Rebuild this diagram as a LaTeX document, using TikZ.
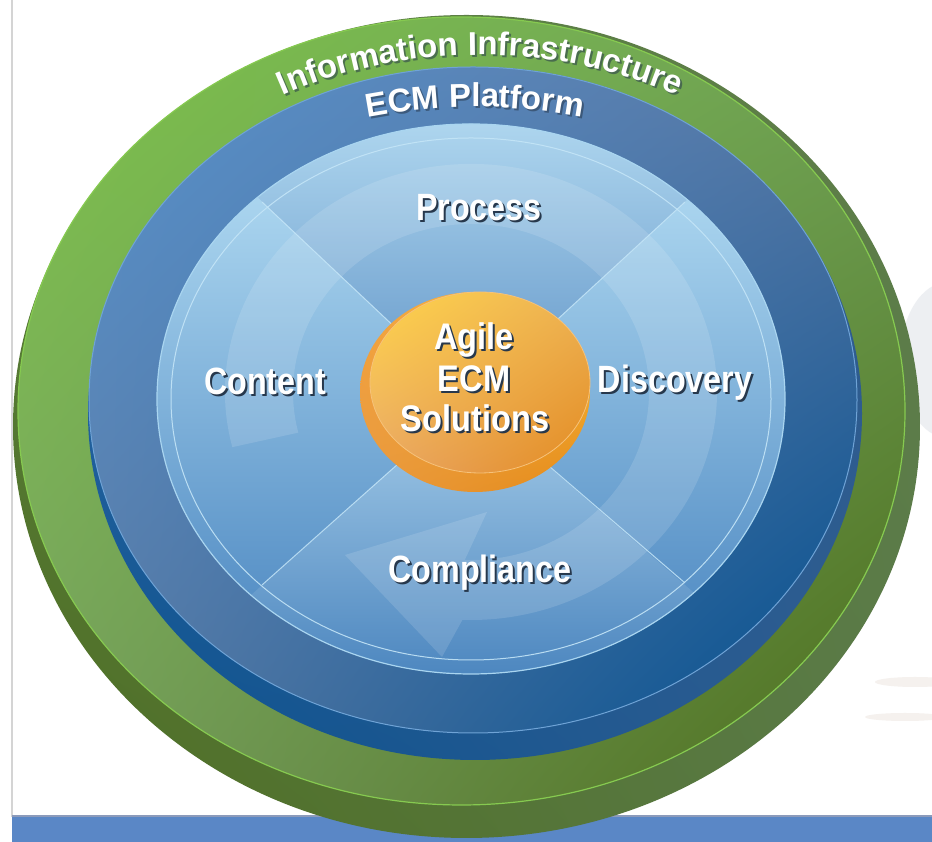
\documentclass[tikz,border=0pt]{standalone}
\usepackage{fontspec}
\setmainfont{Liberation Sans}
\newfontfamily\condfont[FakeStretch=0.85]{Liberation Sans}
\newfontfamily\centfont[FakeStretch=0.88]{Liberation Sans}
\newfontfamily\arcfont{Liberation Sans}
\usetikzlibrary{decorations.text,shadings}

\definecolor{bandblue}{HTML}{5A87C6}
\definecolor{bandtop}{HTML}{8C9BBB}
\definecolor{edgegray}{HTML}{D4D4D4}
\definecolor{faintgray}{HTML}{DDE1E7}
\definecolor{faintpeach}{HTML}{F5F1EE}
\definecolor{shcol}{HTML}{27384C}
% green
\definecolor{grUL}{HTML}{5A8040}
\definecolor{grUR}{HTML}{5E7E4A}
\definecolor{grLL}{HTML}{4E6E22}
\definecolor{grLR}{HTML}{5A7A48}
\definecolor{gfUL}{HTML}{7EC44B}
\definecolor{gfUR}{HTML}{70A258}
\definecolor{gfLL}{HTML}{78A062}
\definecolor{gfLR}{HTML}{4B6B1A}
\definecolor{gline}{HTML}{86CA50}
% ECM blue
\definecolor{brUL}{HTML}{3A6EA8}
\definecolor{brUR}{HTML}{2E5C8F}
\definecolor{brLL}{HTML}{0A5290}
\definecolor{brLR}{HTML}{2E5C8F}
\definecolor{bfUL}{HTML}{5892CC}
\definecolor{bfUR}{HTML}{5A78A4}
\definecolor{bfLL}{HTML}{5A7AA4}
\definecolor{bfLR}{HTML}{004E8E}
\definecolor{bline}{HTML}{6FA3D6}
% disk
\definecolor{dTop}{HTML}{B9E1F6}
\definecolor{dBot}{HTML}{4884BF}
\definecolor{tsTop}{HTML}{B3DAF1}
\definecolor{tsBot}{HTML}{6396C8}
\definecolor{bsTop}{HTML}{A6CDE9}
\definecolor{bsBot}{HTML}{4C86BF}
\definecolor{dline}{HTML}{C4E5F7}
\definecolor{dedge}{HTML}{A9D5F0}
% orange
\definecolor{orUL}{HTML}{F2A23E}
\definecolor{orUR}{HTML}{FBC443}
\definecolor{orLL}{HTML}{E99A40}
\definecolor{orLR}{HTML}{E58A16}
\definecolor{ofUL}{HTML}{FFD54A}
\definecolor{ofUR}{HTML}{EDB256}
\definecolor{ofLL}{HTML}{E9A86A}
\definecolor{ofLR}{HTML}{E38A1E}
\definecolor{oline}{HTML}{F6C27A}

% white text with a dark drop shadow, in one box
\newcommand\shd[1]{\makebox[0pt][l]{\hspace{2pt}\raisebox{-2pt}{\textcolor{shcol}{#1}}}\textcolor{white}{#1}}

\begin{document}
\begin{tikzpicture}[x=1pt,y=1pt,
  lab/.style={font=\condfont\bfseries\fontsize{38}{40}\selectfont, text=white, anchor=base, inner sep=0pt},
  cen/.style={font=\centfont\bfseries\fontsize{37}{40}\selectfont, text=white, anchor=base, inner sep=0pt},
  arctext/.style={decorate, decoration={text along path, text align=center, text color=#1}},
  thinline/.style={line width=1pt}
]
\useasboundingbox (0,0) rectangle (932,842);
\fill[white] (0,0) rectangle (932,842);

% page details
\draw[edgegray, line width=1.2pt] (12,25) -- (12,842);
\fill[faintgray, opacity=0.5] (948,482) ellipse[x radius=48, y radius=78];
\fill[faintpeach] (915,160) ellipse[x radius=40, y radius=5];
\fill[faintpeach] (905,125) ellipse[x radius=40, y radius=4];
\fill[bandblue] (12,0) rectangle (932,25);
\fill[bandtop] (12,25) rectangle (932,27);

% green: Information Infrastructure
\shade[upper left=grUL, upper right=grUR, lower left=grLL, lower right=grLR]
  (466.5,415.5) ellipse[x radius=453.5, y radius=411.5];
\shade[upper left=gfUL, upper right=gfUR, lower left=gfLL, lower right=gfLR]
  (461.5,431) ellipse[x radius=443.5, y radius=394];
\draw[gline, line width=1.2pt] (461.5,431) ellipse[x radius=443.5, y radius=394];

% blue: ECM Platform
\shade[upper left=brUL, upper right=brUR, lower left=brLL, lower right=brLR]
  (475,428.5) ellipse[x radius=387, y radius=346.5];
\shade[upper left=bfUL, upper right=bfUR, lower left=bfLL, lower right=bfLR]
  (473,442) ellipse[x radius=384, y radius=333];
\draw[bline, thinline] (473,442) ellipse[x radius=384, y radius=333];

% inner disk
\shade[top color=dTop, bottom color=dBot] (471,443) ellipse[x radius=314, y radius=275];
\begin{scope}
  \clip (471,443) ellipse[x radius=314, y radius=275];
  \shade[top color=tsTop, bottom color=tsBot] (471,443) -- (158,739) -- (792,739) -- cycle;
  \shade[top color=bsTop, bottom color=bsBot] (471,443) -- (158,164) -- (792,164) -- cycle;
  % cycle arrow band
  \fill[white, opacity=0.13]
    ([shift={(194:246 and 228)}]471,450)
    arc[start angle=194, end angle=-92, x radius=246, y radius=228]
    -- (442,185) -- (345,287) -- (487,330)
    -- ([shift={(-92:178 and 168)}]471,450)
    arc[start angle=-92, end angle=194, x radius=178, y radius=168]
    -- cycle;
\end{scope}
\draw[dedge, line width=1.2pt] (471,443) ellipse[x radius=314, y radius=275];
\draw[dline, thinline, opacity=0.9] (471,443) ellipse[x radius=300, y radius=261];
\draw[dline, thinline, opacity=0.85] (262,640) -- (471,443) -- (685,640);
\draw[dline, thinline, opacity=0.85] (262,257) -- (471,443) -- (685,259);

% orange centre
\shade[upper left=orUL, upper right=orUR, lower left=orLL, lower right=orLR]
  (475,450) ellipse[x radius=115, y radius=100];
\shade[upper left=ofUL, upper right=ofUR, lower left=ofLL, lower right=ofLR]
  (480,459.5) ellipse[x radius=110, y radius=90.5];
\draw[oline, line width=0.8pt] (480,459.5) ellipse[x radius=110, y radius=90.5];

% arc labels: shadow copy, then white copy
\begin{scope}[opacity=0.55]
\path[arctext=shcol, decoration={text={|\arcfont\bfseries\fontsize{33}{33}\selectfont|Information Infrastructure}}]
  ([shift={(125:430 and 365)}]482,420) arc[start angle=125, end angle=55, x radius=430, y radius=365];
\path[arctext=shcol, decoration={text={|\arcfont\bfseries\fontsize{33}{33}\selectfont|ECM Platform}}]
  ([shift={(118:420 and 306)}]477,427) arc[start angle=118, end angle=62, x radius=420, y radius=306];
\end{scope}
\path[arctext=white, decoration={text={|\arcfont\bfseries\fontsize{33}{33}\selectfont|Information Infrastructure}}]
  ([shift={(125:430 and 365)}]480,422) arc[start angle=125, end angle=55, x radius=430, y radius=365];
\path[arctext=white, decoration={text={|\arcfont\bfseries\fontsize{33}{33}\selectfont|ECM Platform}}]
  ([shift={(118:420 and 306)}]475,429) arc[start angle=118, end angle=62, x radius=420, y radius=306];

% quadrant labels
\node[lab] (proc) at (479,621) {\shd{Process}};
\node[lab] (cont) at (265,447) {\shd{Content}};
\node[lab] (disc) at (675,449) {\shd{Discovery}};
\node[lab] (comp) at (480,259) {\shd{Compliance}};

% centre labels
\node[cen] (ag) at (474,492) {\shd{Agile}};
\node[cen] (ec) at (474,450) {\shd{ECM}};
\node[cen] (so) at (475,410) {\shd{Solutions}};
\end{tikzpicture}
\end{document}
